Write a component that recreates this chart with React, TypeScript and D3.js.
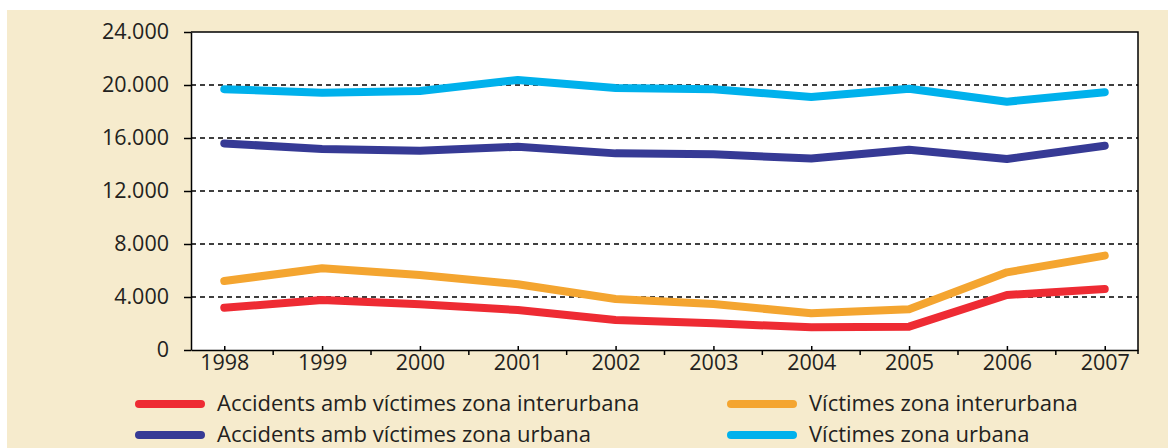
import * as d3 from "d3";
import { useRef, useEffect } from "react";

const years = ["1998", "1999", "2000", "2001", "2002", "2003", "2004", "2005", "2006", "2007"];
const accidentsInterurban = [3190, 3770, 3450, 3020, 2260, 2010, 1710, 1760, 4150, 4600];
const victimsInterurban = [5210, 6170, 5660, 4960, 3850, 3470, 2770, 3070, 5860, 7120];
const accidentsUrban = [15590, 15170, 15040, 15340, 14840, 14770, 14450, 15120, 14410, 15420];
const victimsUrban = [19680, 19420, 19550, 20380, 19780, 19680, 19100, 19720, 18740, 19450];
const yTicks = [0, 4000, 8000, 12000, 16000, 20000, 24000];
const gridTicks = [4000, 8000, 12000, 16000, 20000];

const seriesNames = [
  "Accidents amb víctimes zona interurbana",
  "Víctimes zona interurbana",
  "Accidents amb víctimes zona urbana",
  "Víctimes zona urbana",
];
const seriesColors = ["#ee2b33", "#f4a530", "#363a95", "#00b1ec"];

export default function App() {
  const ref = useRef<HTMLDivElement | null>(null);
  const width = 1168;
  const height = 448;
  const marginLeft = 191;
  const marginRight = 30;
  const marginTop = 32;
  const plotBottom = 350;
  const font = "'Open Sans', sans-serif";
  const fontSize = 21.5;
  const textColor = "#231f20";

  useEffect(() => {
    d3.select(ref.current).selectAll("svg").remove();

    const allSeries = [accidentsInterurban, victimsInterurban, accidentsUrban, victimsUrban];

    const x = d3.scalePoint<string>()
      .domain(years)
      .range([marginLeft, width - marginRight])
      .padding(0.34);

    const y = d3.scaleLinear()
      .domain([0, 24000])
      .range([plotBottom, marginTop]);

    const fmt = d3.formatLocale({ decimal: ",", thousands: ".", grouping: [3], currency: ["", "€"] }).format(",d");

    const svg = d3.create("svg")
      .attr("width", width)
      .attr("height", height)
      .attr("viewBox", [0, 0, width, height])
      .style("display", "block");

    // background panel
    svg.append("rect")
      .attr("x", 7).attr("y", 10)
      .attr("width", width - 7).attr("height", height - 10)
      .attr("fill", "#f6ebcd");

    // plot area
    svg.append("rect")
      .attr("x", marginLeft).attr("y", marginTop)
      .attr("width", width - marginRight - marginLeft)
      .attr("height", plotBottom - marginTop)
      .attr("fill", "#fff");

    // dashed gridlines
    svg.append("g")
      .selectAll("line")
      .data(gridTicks)
      .join("line")
      .attr("x1", marginLeft)
      .attr("x2", width - marginRight)
      .attr("y1", d => y(d))
      .attr("y2", d => y(d))
      .attr("stroke", "#000")
      .attr("stroke-width", 1.4)
      .attr("stroke-dasharray", "5,4");

    // top + right frame
    svg.append("path")
      .attr("d", `M${marginLeft},${marginTop}H${width - marginRight}V${plotBottom + 4}`)
      .attr("fill", "none")
      .attr("stroke", "#000")
      .attr("stroke-width", 1.5);

    // y axis
    const yAxis = svg.append("g")
      .attr("transform", `translate(${marginLeft},0)`)
      .call(d3.axisLeft(y).tickValues(yTicks).tickFormat((d: any) => fmt(d)).tickSize(7).tickSizeOuter(0).tickPadding(15));
    yAxis.selectAll("path, line").attr("stroke", "#000").attr("stroke-width", 1.5);
    yAxis.selectAll("text")
      .attr("fill", textColor)
      .style("font", `${fontSize}px ${font}`);

    // x axis
    const xAxis = svg.append("g")
      .attr("transform", `translate(0,${plotBottom})`)
      .call(d3.axisBottom(x).tickSize(-4).tickSizeOuter(0).tickPadding(5));
    xAxis.selectAll("path, line").attr("stroke", "#000").attr("stroke-width", 1.5);
    xAxis.selectAll("text")
      .attr("fill", textColor)
      .style("font", `${fontSize}px ${font}`);

    // minor ticks between years, pointing down
    const step = x.step();
    svg.append("g")
      .selectAll("line")
      .data(years.slice(0, -1))
      .join("line")
      .attr("x1", d => (x(d) as number) + step / 2)
      .attr("x2", d => (x(d) as number) + step / 2)
      .attr("y1", plotBottom)
      .attr("y2", plotBottom + 5)
      .attr("stroke", "#000")
      .attr("stroke-width", 1.5);

    // lines
    const line = d3.line<number>()
      .x((_, i) => x(years[i]) as number)
      .y(d => y(d));

    svg.append("g")
      .selectAll("path")
      .data(allSeries)
      .join("path")
      .attr("d", d => line(d))
      .attr("fill", "none")
      .attr("stroke", (_, i) => seriesColors[i])
      .attr("stroke-width", 8)
      .attr("stroke-linecap", "round")
      .attr("stroke-linejoin", "round");

    // legend: two columns, two rows
    const legendCols = [136, 728];
    const legendRows = [404, 435];
    const legend = svg.append("g")
      .selectAll("g")
      .data(seriesNames)
      .join("g")
      .attr("transform", (_, i) => `translate(${legendCols[i % 2]},${legendRows[Math.floor(i / 2)]})`);

    legend.append("line")
      .attr("x1", 3).attr("x2", 65)
      .attr("stroke", (_, i) => seriesColors[i])
      .attr("stroke-width", 8)
      .attr("stroke-linecap", "round");

    legend.append("text")
      .attr("x", 81)
      .attr("dy", "0.33em")
      .attr("fill", textColor)
      .style("font", `22px ${font}`)
      .text(d => d);

    const node = svg.node();
    if (ref.current && node) ref.current.appendChild(node);
  }, []);

  return <div ref={ref} style={{ position: "absolute", left: 0, top: 0 }}></div>;
}
